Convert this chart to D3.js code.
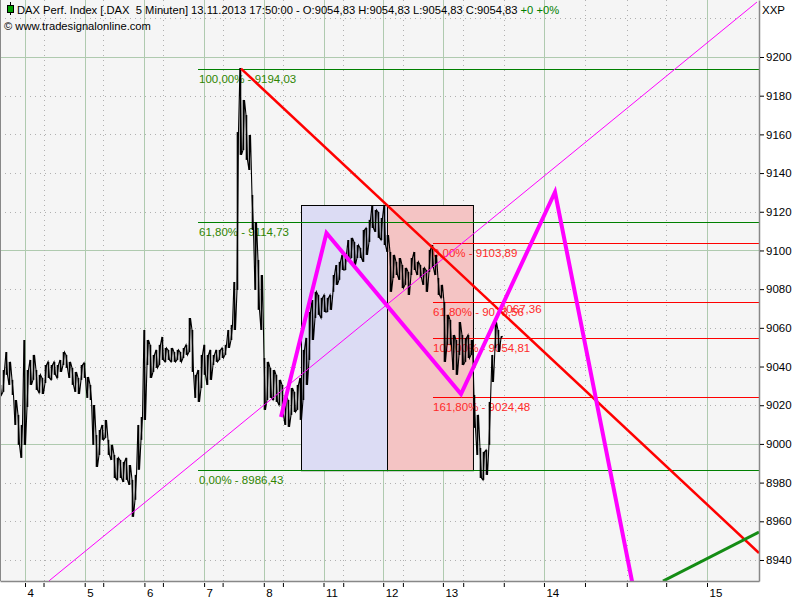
<!DOCTYPE html>
<html><head><meta charset="utf-8">
<script src="https://cdn.jsdelivr.net/npm/d3@7"></script>
<style>
body{margin:0;background:#fff;}
svg{display:block;font-family:"Liberation Sans",Arial,sans-serif;}
</style>
</head><body>
<svg id="c" width="800" height="600"></svg>
<script>
// ---------- DATA ----------
const dayLabels = ["4","5","6","7","8","11","12","13","14","15"];
const dayTicks = [0,1,2,3,4,5,6,7,8.693,11.424];
const minorTicks = [0.31,1.31,2.31,3.31,4.32,5.33,6.33,7.34,8.02,9.38,10.08,10.74];
const priceTicks = [8940,8960,8980,9000,9020,9040,9060,9080,9100,9120,9140,9160,9180,9200];
const gridValues = [8940,8960,8980,9000,9020,9040,9060,9080,9100,9120,9140,9160,9180,9200,9220];
const solidGridValues = [9000,9100,9200];
const xDomain = [-0.419, 12.295];
const yDomain = [8929.14, 9229.46];

const priceStart = -0.419;
const priceStep = 0.05025;
const priceHigh = [
9030.5,9038.2,9047.5,9042.4,9033.1,9022.7,9015.0,9009.8,9053.7,9038.2,
9043.4,9046.0,9038.2,9035.7,9034.1,9040.8,9042.4,9040.8,9042.4,9040.8,
9043.4,9047.5,9046.0,9042.4,9039.3,9037.2,9034.1,9040.8,9041.9,9034.6,
9030.5,9020.1,9004.6,9007.2,9009.8,9012.4,9002.1,8999.5,8994.3,8992.8,
8991.7,8990.7,8992.8,8989.1,8981.4,8984.0,9009.8,9013.9,9058.9,9053.7,
9051.2,9046.0,9048.6,9051.2,9055.3,9049.6,9048.6,9049.6,9047.5,9048.6,
9047.5,9049.6,9051.2,9065.1,9058.9,9035.7,9038.2,9046.0,9051.2,9046.0,
9048.6,9046.0,9048.6,9048.6,9049.6,9051.2,9058.9,9061.5,9083.7,9161.2,
9194.3,9177.8,9170.0,9159.7,9128.7,9114.7,9095.1,9087.3,9044.4,9042.4,
9039.3,9038.2,9035.7,9033.1,9030.5,9025.3,9022.7,9028.9,9026.9,9030.5,
9034.1,9048.6,9054.8,9068.2,9074.4,9078.6,9077.0,9075.5,9077.0,9075.5,
9077.0,9087.3,9092.5,9094.1,9097.7,9097.7,9105.4,9106.5,9104.4,9102.8,
9101.3,9110.6,9111.6,9115.8,9123.5,9120.9,9119.9,9116.8,9123.5,9108.0,
9099.2,9097.7,9094.1,9096.1,9092.5,9091.0,9088.9,9096.1,9099.2,9094.1,
9092.5,9091.0,9089.9,9100.3,9102.8,9097.7,9085.8,9082.2,9073.4,9066.7,
9064.1,9056.3,9053.7,9063.0,9056.3,9054.8,9056.3,9053.7,9025.3,9015.0,
8997.9,8995.9,8996.9,9021.7,9046.0,9063.0,9058.9,9055.8];
const priceLow = [
9025.3,9026.9,9035.7,9030.5,9025.3,9009.8,8999.5,8992.8,8999.5,9019.1,
9030.5,9033.1,9027.9,9026.4,9025.8,9031.5,9034.1,9033.1,9035.7,9034.1,
9037.2,9040.8,9039.3,9034.1,9030.5,9026.9,9025.8,9033.1,9034.1,9023.8,
9022.7,8999.5,8988.1,8994.3,9002.1,9003.1,8994.3,8991.7,8982.4,8981.4,
8982.4,8980.3,8981.4,8978.8,8962.3,8971.1,8986.6,9002.1,9012.4,9040.8,
9034.1,9037.2,9039.3,9040.8,9043.4,9042.4,9043.4,9042.4,9042.4,9043.4,
9042.4,9044.4,9046.0,9047.5,9037.2,9023.8,9021.7,9028.9,9035.7,9030.5,
9033.1,9040.8,9042.4,9043.4,9044.4,9046.0,9049.6,9053.7,9058.9,9079.6,
9149.4,9151.9,9146.8,9141.6,9110.6,9079.6,9069.3,9058.9,9017.6,9022.7,
9023.8,9022.7,9021.7,9020.1,9015.0,9009.8,9008.8,9015.0,9016.5,9017.6,
9012.4,9022.7,9030.5,9043.4,9053.7,9065.1,9066.7,9065.1,9068.2,9068.2,
9069.3,9078.6,9082.2,9084.8,9089.9,9089.9,9094.1,9096.1,9092.5,9096.1,
9096.1,9094.1,9097.7,9104.4,9111.6,9109.6,9106.5,9105.4,9102.8,9099.2,
9078.6,9085.8,9087.3,9084.8,9080.6,9082.2,9077.0,9087.3,9089.9,9087.3,
9085.8,9082.2,9078.6,9088.9,9091.0,9087.3,9077.0,9075.5,9042.4,9051.2,
9051.2,9038.2,9035.7,9046.0,9040.8,9042.4,9044.4,9046.0,9008.3,8994.3,
8982.4,8981.4,8984.0,8999.5,9032.0,9049.6,9047.5,9054.8];

const greenFibLevels = [1, 0.618, 0];
const greenFibValues = [9194.03, 9114.73, 8986.43];
const greenFibStart = 2.898;
const redFibLevels = [0, 0.618, 1, 1.618];
const redFibValues = [9103.89, 9073.56, 9054.81, 9024.48];
const redFibStart = 6.834;
const extraLabelValue = 9067.36;
const extraLabelTime = 7.956;

const boxStarts = [4.623, 6.064];
const boxEnds = [6.064, 7.504];
const boxLow = 8986.43;
const boxHigh = 9123.5;

const redTrendTimes = [3.618, 12.295];
const redTrendValues = [9194.03, 8943.62];
const thinTrendTimes = [0.402, 12.261];
const thinTrendValues = [8929.2, 9228.4];
const greenTrendTimes = [10.687, 12.295];
const greenTrendValues = [8929.1, 8954.47];
const zigTimes = [4.288, 5.050, 7.303, 8.878, 10.29];
const zigValues = [9013.9, 9109.0, 9025.8, 9130.2, 8910.0];

// ---------- DRAW ----------
const W = 759, H = 581;
const svg = d3.select("#c");
const x = d3.scaleLinear().domain(xDomain).range([0, W]);
const y = d3.scaleLinear().domain(yDomain).range([H, 0]);

svg.append("rect").attr("x",0).attr("y",0).attr("width",W).attr("height",H).attr("fill","#f5f5f5");
svg.append("defs").append("clipPath").attr("id","clip")
  .append("rect").attr("x",0).attr("y",0).attr("width",W).attr("height",H);

const g = svg.append("g").attr("clip-path","url(#clip)");

// grid
g.selectAll(".hg").data(gridValues).join("line")
  .attr("x1",0).attr("x2",W)
  .attr("y1",d=>Math.round(y(d))+0.5).attr("y2",d=>Math.round(y(d))+0.5)
  .attr("stroke",d=>solidGridValues.includes(d)?"#afcaaf":"#b0b0b0")
  .attr("stroke-dasharray",d=>solidGridValues.includes(d)?null:"1,4");
g.selectAll(".vg").data(dayTicks).join("line")
  .attr("y1",0).attr("y2",H)
  .attr("x1",d=>Math.round(x(d))+0.5).attr("x2",d=>Math.round(x(d))+0.5)
  .attr("stroke","#afcaaf");
g.selectAll(".vm").data(minorTicks).join("line")
  .attr("y1",0).attr("y2",H)
  .attr("x1",d=>Math.round(x(d))+0.5).attr("x2",d=>Math.round(x(d))+0.5)
  .attr("stroke","#b0b0b0").attr("stroke-dasharray","1,4");

// boxes
const boxFills = ["#dcdcf4","#f4c4c4"];
g.selectAll(".box").data(boxStarts).join("rect")
  .attr("x",(d)=>Math.round(x(d))+0.5)
  .attr("width",(d,i)=>x(boxEnds[i])-x(d))
  .attr("y",Math.round(y(boxHigh))+0.5)
  .attr("height",y(boxLow)-y(boxHigh))
  .attr("fill",(d,i)=>boxFills[i]).attr("stroke","#000").attr("stroke-width",1);

// fib lines + labels
const fmtV = v => d3.format(".2f")(v).replace(".",",");
const fmtP = p => (p*100).toFixed(2).replace(".",",")+"%";
const green = "#008000", greenText = "#2f8500", red = "#ff0000";
greenFibValues.forEach((v,i)=>{
  const yy = Math.round(y(v))+0.5;
  g.append("line").attr("x1",x(greenFibStart)).attr("x2",W).attr("y1",yy).attr("y2",yy)
    .attr("stroke",green).attr("stroke-width",1.2);
  g.append("text").attr("x",x(greenFibStart)+1).attr("y",yy+13)
    .attr("font-size",11.5).attr("fill",greenText)
    .text(fmtP(greenFibLevels[i])+" - "+fmtV(v));
});
redFibValues.forEach((v,i)=>{
  const yy = Math.round(y(v))+0.5;
  g.append("line").attr("x1",x(redFibStart)).attr("x2",W).attr("y1",yy).attr("y2",yy)
    .attr("stroke",red).attr("stroke-width",1.2);
  g.append("text").attr("x",x(redFibStart)).attr("y",yy+13)
    .attr("font-size",11.5).attr("fill","#ff2a2a")
    .text(fmtP(redFibLevels[i])+" - "+fmtV(v));
});
g.append("text").attr("x",x(extraLabelTime)).attr("y",y(extraLabelValue)-1)
  .attr("font-size",11.5).attr("fill","#ff2a2a").text(fmtV(extraLabelValue));

// price: vertical high-low strokes plus connecting zigzag
const pts = [];
priceHigh.forEach((h,i)=>{
  const t = priceStart + i*priceStep;
  if (i%2===0){ pts.push([t,h]); pts.push([t+priceStep/2,priceLow[i]]); }
  else { pts.push([t,priceLow[i]]); pts.push([t+priceStep/2,h]); }
});
const line = d3.line().x(d=>x(d[0])).y(d=>y(d[1]));
g.selectAll(".bar").data(priceHigh).join("line")
  .attr("x1",(d,i)=>x(priceStart+i*priceStep)+0.5)
  .attr("x2",(d,i)=>x(priceStart+i*priceStep)+0.5)
  .attr("y1",d=>y(d)).attr("y2",(d,i)=>y(priceLow[i]))
  .attr("stroke","#000").attr("stroke-width",1.6);
g.append("path").datum(pts).attr("d",line).attr("fill","none")
  .attr("stroke","#000").attr("stroke-width",1.1);

// trend lines
const pair = (ts,vs)=>ts.map((t,i)=>[t,vs[i]]);
g.append("path").datum(pair(thinTrendTimes,thinTrendValues)).attr("d",line)
  .attr("stroke","#ff00ff").attr("stroke-width",1).attr("fill","none");
g.append("path").datum(pair(redTrendTimes,redTrendValues)).attr("d",line)
  .attr("stroke","#ff0000").attr("stroke-width",2.5).attr("fill","none");
g.append("path").datum(pair(greenTrendTimes,greenTrendValues)).attr("d",line)
  .attr("stroke","#148c14").attr("stroke-width",3).attr("fill","none");
g.append("path").datum(pair(zigTimes,zigValues)).attr("d",line)
  .attr("stroke","#ff00ff").attr("stroke-width",4).attr("fill","none")
  .attr("stroke-linejoin","miter");

// axes
const axisColor = "#888";
const xa = svg.append("g").attr("transform",`translate(0,${H})`)
  .call(d3.axisBottom(x).tickValues(dayTicks).tickFormat((d,i)=>dayLabels[i]).tickSize(6).tickSizeOuter(0));
xa.select(".domain").attr("stroke",axisColor).attr("stroke-width",1.5);
xa.selectAll(".tick line").attr("stroke","#000").attr("y1",2);
xa.selectAll(".tick text").attr("text-anchor","start").attr("x",2).attr("y",16).attr("dy",null)
  .attr("font-size",11.5).attr("font-family","Liberation Sans, Arial, sans-serif").attr("fill","#000");
const xm = svg.append("g").attr("transform",`translate(0,${H})`)
  .call(d3.axisBottom(x).tickValues(minorTicks).tickFormat("").tickSize(6).tickSizeOuter(0));
xm.select(".domain").remove();
xm.selectAll(".tick line").attr("stroke","#000").attr("y1",2);

const ya = svg.append("g").attr("transform",`translate(${W},0)`)
  .call(d3.axisRight(y).tickValues(priceTicks).tickFormat(d3.format("d")).tickSize(5).tickSizeOuter(0));
ya.select(".domain").attr("stroke",axisColor).attr("stroke-width",1.5);
ya.selectAll(".tick line").attr("stroke","#000").attr("x1",1);
ya.selectAll(".tick text").attr("x",7).attr("font-size",11.5)
  .attr("font-family","Liberation Sans, Arial, sans-serif").attr("fill","#000");
svg.append("text").attr("x",762).attr("y",14).attr("font-size",11.5).text("XXP");

// left border
svg.append("line").attr("x1",0.5).attr("x2",0.5).attr("y1",0).attr("y2",H).attr("stroke",axisColor);

// header
const hd = svg.append("g");
hd.append("line").attr("x1",10.5).attr("x2",10.5).attr("y1",2).attr("y2",15).attr("stroke","#000");
hd.append("rect").attr("x",7.5).attr("y",5.5).attr("width",6).attr("height",7).attr("fill","#00a000").attr("stroke","#000");
const ht = hd.append("text").attr("x",17).attr("y",14).attr("font-size",11.2).style("white-space","pre");
ht.append("tspan").attr("fill","#000").text("DAX Perf. Index [.DAX  5 Minuten] 13.11.2013 17:50:00 - O:9054,83 H:9054,83 L:9054,83 C:9054,83 ");
ht.append("tspan").attr("fill","#008000").text("+0 +0%");
hd.append("text").attr("x",4).attr("y",30).attr("font-size",11.2).attr("fill","#000")
  .text("© www.tradesignalonline.com");
</script>
</body></html>
